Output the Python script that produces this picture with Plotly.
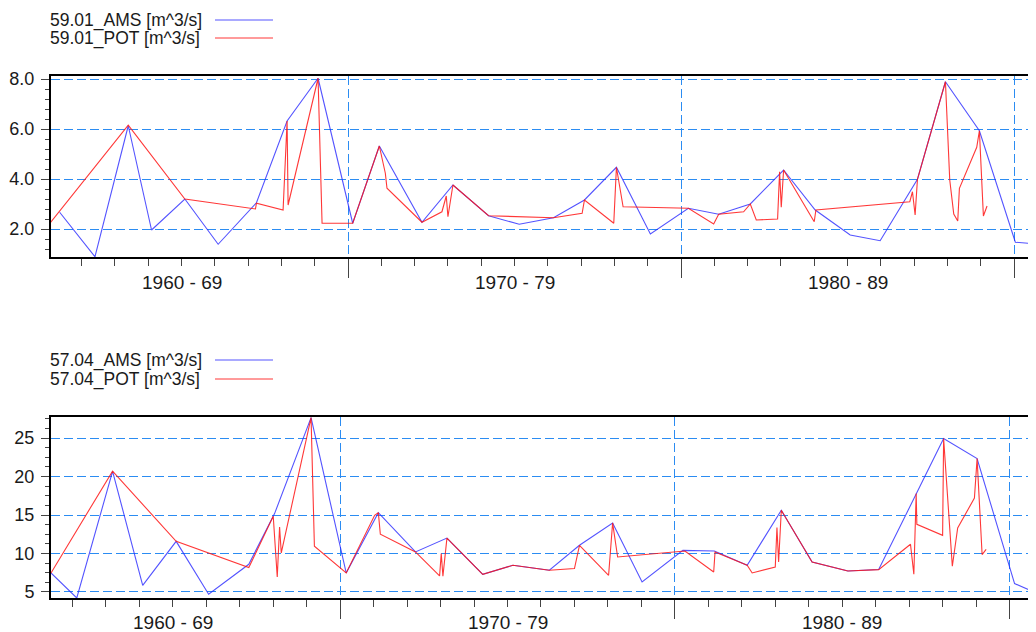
import plotly.graph_objects as go

# ---------------- data ----------------
# Station 59.01 (decimal years, m^3/s)
ams_5901_year = [1961.34, 1962.4, 1963.4, 1964.1, 1965.1, 1966.1, 1967.25, 1968.17, 1969.1,
                 1970.14, 1970.94, 1972.22, 1973.15, 1974.22, 1975.14, 1976.17, 1977.1, 1978.06,
                 1979.08, 1980.22, 1981.13, 1982.08, 1983.08, 1984.03, 1985.08, 1985.98, 1987.1,
                 1987.94, 1988.96, 1990.04, 1991.2]
ams_5901_val = [2.67, 0.89, 6.13, 1.96, 3.2, 1.39, 3.05, 6.32, 8.03,
                2.23, 5.32, 2.27, 3.76, 2.53, 2.19, 2.45, 3.16, 4.47,
                1.8, 2.83, 2.59, 3.0, 4.36, 2.76, 1.76, 1.53, 3.99,
                7.89, 5.93, 1.47, 1.34]

pot_5901_year = [1960.95, 1963.4, 1965.1, 1967.22, 1967.25, 1968.05, 1968.17, 1968.2, 1969.1,
                 1969.22, 1970.14, 1970.94, 1971.12, 1971.17, 1972.22, 1972.82, 1972.95, 1973.0,
                 1973.15, 1974.22, 1976.17, 1977.03, 1977.1, 1977.98, 1978.06, 1978.26, 1980.22,
                 1980.98, 1981.13, 1981.88, 1982.08, 1982.26, 1982.9, 1982.96, 1983.01, 1983.08,
                 1984.0, 1984.05, 1986.87, 1986.95, 1987.03, 1987.1, 1987.94, 1988.07, 1988.19,
                 1988.31, 1988.36, 1988.88, 1988.96, 1989.08, 1989.19]
pot_5901_val = [2.07, 6.15, 3.2, 2.8, 3.03, 2.76, 6.32, 2.96, 8.03,
                2.23, 2.23, 5.32, 4.23, 3.63, 2.27, 2.69, 3.32, 2.49,
                3.76, 2.53, 2.45, 2.63, 3.16, 2.23, 4.47, 2.89, 2.83,
                2.2, 2.59, 2.69, 3.0, 2.36, 2.4, 4.29, 2.87, 4.36,
                2.29, 2.76, 3.09, 3.49, 2.56, 3.99, 7.89, 3.96, 2.6,
                2.32, 3.63, 5.27, 5.93, 2.52, 2.92]

# Station 57.04
ams_5704_year = [1961.36, 1962.13, 1963.2, 1964.1, 1965.1, 1966.07, 1967.27, 1968.04, 1969.13,
                 1970.18, 1971.14, 1972.25, 1973.19, 1974.26, 1975.16, 1976.25, 1977.15, 1978.14,
                 1979.02, 1980.24, 1981.18, 1982.16, 1983.18, 1984.1, 1985.17, 1986.09, 1988.03,
                 1989.03, 1990.15, 1991.1]
ams_5704_val = [7.47, 4.22, 20.67, 5.87, 11.58, 4.7, 8.6, 15.18, 27.65,
                7.47, 15.31, 10.2, 12.0, 7.3, 8.47, 7.82, 11.07, 13.97,
                6.3, 10.41, 10.33, 8.47, 15.61, 8.9, 7.73, 7.91, 24.92,
                22.32, 6.09, 4.3]

pot_5704_year = [1961.36, 1963.2, 1965.1, 1967.27, 1968.0, 1968.12, 1968.19, 1968.24, 1969.13,
                 1969.23, 1970.18, 1971.03, 1971.14, 1971.2, 1972.25, 1972.97, 1973.02, 1973.07,
                 1973.19, 1974.26, 1975.16, 1976.25, 1977.0, 1977.15, 1978.02, 1978.14, 1978.29,
                 1980.3, 1981.16, 1981.2, 1982.16, 1982.31, 1983.0, 1983.05, 1983.1, 1983.18,
                 1984.1, 1985.17, 1986.09, 1987.04, 1987.14, 1987.21, 1987.23, 1988.0, 1988.03,
                 1988.29, 1988.45, 1988.95, 1989.03, 1989.18, 1989.3]
pot_5704_val = [7.47, 20.7, 11.58, 8.17, 14.83, 6.95, 13.44, 10.07, 27.65,
                10.94, 7.47, 14.96, 15.31, 12.5, 10.2, 7.08, 9.98, 7.04,
                12.0, 7.3, 8.47, 7.82, 8.04, 11.07, 7.17, 13.97, 9.55,
                10.33, 7.6, 10.2, 8.47, 7.47, 8.25, 13.36, 8.9, 15.61,
                8.9, 7.73, 7.91, 11.2, 7.3, 17.78, 13.79, 12.36, 24.92,
                8.34, 13.31, 17.2, 22.32, 9.86, 10.54]

decade_label_pos = [1965, 1975, 1985]
decade_labels = ["1960 - 69", "1970 - 79", "1980 - 89"]
decade_bounds = [1970, 1980, 1990]

names_top = ["59.01_AMS [m^3/s]", "59.01_POT [m^3/s]"]
names_bot = ["57.04_AMS [m^3/s]", "57.04_POT [m^3/s]"]

# ---------------- styling ----------------
OFF = 8                      # page body margin
W, H = 1036 - OFF, 632 - OFF
ML = 51 - OFF
FONT = "Liberation Sans, Arial, sans-serif"
TXT = "#1a1a1a"
GRID = "#2b8cf2"
DASH = "9px,4px"
BLUE = "rgba(40,40,255,0.8)"
RED = "rgba(255,20,20,0.85)"

def py2paper(sy):
    return 1 - (sy - OFF) / H

def px2paper(sx):
    return (sx - OFF - ML) / (W - ML)

fig = go.Figure()
fig.add_trace(go.Scatter(x=ams_5901_year, y=ams_5901_val, mode="lines", name=names_top[0],
                         line=dict(color=BLUE, width=1.1), xaxis="x", yaxis="y", showlegend=False))
fig.add_trace(go.Scatter(x=pot_5901_year, y=pot_5901_val, mode="lines", name=names_top[1],
                         line=dict(color=RED, width=1.1), xaxis="x", yaxis="y", showlegend=False))
fig.add_trace(go.Scatter(x=ams_5704_year, y=ams_5704_val, mode="lines", name=names_bot[0],
                         line=dict(color=BLUE, width=1.1), xaxis="x2", yaxis="y2", showlegend=False))
fig.add_trace(go.Scatter(x=pot_5704_year, y=pot_5704_val, mode="lines", name=names_bot[1],
                         line=dict(color=RED, width=1.1), xaxis="x2", yaxis="y2", showlegend=False))

top_dom = [py2paper(257), py2paper(76)]
bot_dom = [py2paper(598), py2paper(417)]
top_xr = [1961.08, 1990.66]
bot_xr = [1961.36, 1990.79]

def x_axis(rng, anchor):
    return dict(range=rng, anchor=anchor, domain=[0, 1], tickmode="array",
                tickvals=decade_bounds, showticklabels=False,
                ticks="outside", ticklen=19, tickwidth=1, tickcolor="#444",
                showgrid=True, gridcolor=GRID, griddash=DASH, gridwidth=1,
                zeroline=False, showline=True, linecolor="black", linewidth=2, mirror=True,
                minor=dict(dtick=1, tick0=1960, ticks="outside", ticklen=7,
                           tickwidth=1, tickcolor="#444", showgrid=False),
                fixedrange=True)

def y_axis(rng, dom, anchor, dtick, mdtick, fmt):
    return dict(range=rng, domain=dom, anchor=anchor, tick0=0, dtick=dtick,
                tickformat=fmt, ticks="outside", ticklen=8, tickwidth=1, tickcolor="#444",
                showgrid=True, gridcolor=GRID, griddash=DASH, gridwidth=1,
                zeroline=False, showline=True, linecolor="black", linewidth=2,
                tickfont=dict(size=18, color=TXT, family=FONT), ticklabelstandoff=3,
                minor=dict(dtick=mdtick, tick0=0, ticks="outside", ticklen=4,
                           tickwidth=1, tickcolor="#444", showgrid=False),
                fixedrange=True)

fig.update_layout(
    width=W, height=H,
    margin=dict(l=ML, r=0, t=0, b=0, autoexpand=False),
    paper_bgcolor="white", plot_bgcolor="white",
    showlegend=False,
    font=dict(family=FONT, color=TXT, size=17),
    xaxis=x_axis(top_xr, "y"),
    yaxis=y_axis([0.88, 8.12], top_dom, "x", 2, 0.4, ".1f"),
    xaxis2=x_axis(bot_xr, "y2"),
    yaxis2=y_axis([4.22, 27.73], bot_dom, "x2", 5, 1.25, "d"),
)

# decade labels centred in each decade, below each x axis
for xref, label_y in (("x", 282), ("x2", 622)):
    for pos, lab in zip(decade_label_pos, decade_labels):
        fig.add_annotation(x=pos, y=py2paper(label_y), xref=xref, yref="paper",
                           text=lab, showarrow=False, xanchor="center", yanchor="middle",
                           font=dict(size=19, color=TXT, family=FONT))

# legends drawn as text + line samples (text left, sample right)
legend_rows = [(names_top[0], BLUE, 20), (names_top[1], RED, 38),
               (names_bot[0], BLUE, 360), (names_bot[1], RED, 379)]
for text, col, ypx in legend_rows:
    fig.add_annotation(x=px2paper(48), y=py2paper(ypx), xref="paper", yref="paper",
                       text=text, showarrow=False, xanchor="left", yanchor="middle",
                       font=dict(size=17.5, color=TXT, family=FONT))
    fig.add_shape(type="line", xref="paper", yref="paper",
                  x0=px2paper(215), x1=px2paper(273), y0=py2paper(ypx), y1=py2paper(ypx),
                  line=dict(color=col, width=1))

fig.write_html("out.html")
